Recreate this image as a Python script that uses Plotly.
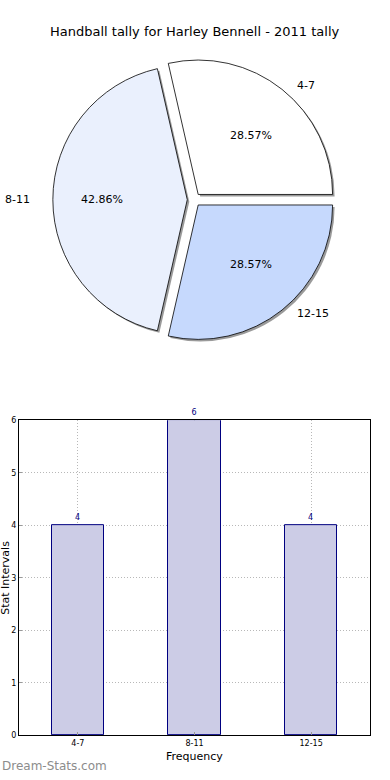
import math
import plotly.graph_objects as go

# ---- data ----
categories = ["4-7", "8-11", "12-15"]
counts = [4, 6, 4]
pie_colors = ["#ffffff", "#eaf0fd", "#c6d9fd"]
title_text = "Handball tally for Harley Bennell - 2011 tally"
x_title = "Frequency"
y_title = "Stat Intervals"
watermark = "Dream-Stats.com"

W, H = 390, 780
FONT = "DejaVu Sans"

# pie layout (pixels)
CX, CY = 194, 198
R = 136
PULL = 0.05
RX, RY = 141, 128   # for text placement (reference pie is slightly elliptical)

total = sum(counts)
# first slice starts at 3 o'clock and runs counterclockwise
pie_rotation = 90 - 360 * counts[0] / total


def px_x(x):
    return x / W


def px_y(y):
    return 1 - y / H


box = R * (2 + 2 * PULL)
pie_dom_x = [px_x(CX - box / 2), px_x(CX + box / 2)]
pie_dom_y = [px_y(CY + box / 2), px_y(CY - box / 2)]

fig = go.Figure()

# shadow
fig.add_trace(go.Pie(
    labels=categories, values=counts, sort=False, direction="counterclockwise",
    rotation=pie_rotation, pull=[PULL] * len(counts), textinfo="none", hoverinfo="skip",
    marker=dict(colors=["#9a9a9a"] * len(counts), line=dict(width=0)),
    domain=dict(x=[pie_dom_x[0] + 2 / W, pie_dom_x[1] + 2 / W],
                y=[pie_dom_y[0] - 2 / H, pie_dom_y[1] - 2 / H]),
    showlegend=False,
))
# main pie
fig.add_trace(go.Pie(
    labels=categories, values=counts, sort=False, direction="counterclockwise",
    rotation=pie_rotation, pull=[PULL] * len(counts), textinfo="none",
    marker=dict(colors=pie_colors, line=dict(color="#000000", width=0.8)),
    domain=dict(x=pie_dom_x, y=pie_dom_y),
    showlegend=False,
))

annotations = []
cum = 0
for cat, v in zip(categories, counts):
    frac = v / total
    mid = math.radians(360 * (cum + frac / 2))
    cum += frac
    c, s = math.cos(mid), math.sin(mid)
    lx = CX + (PULL + 1.1) * RX * c
    ly = CY - (PULL + 1.1) * RY * s
    annotations.append(dict(x=px_x(lx), y=px_y(ly), xref="paper", yref="paper",
                            text=cat, showarrow=False,
                            xanchor="left" if c > 0 else "right", yanchor="middle",
                            font=dict(family=FONT, size=11, color="#000")))
    tx = CX + (PULL + 0.6) * RX * c
    ty = CY - (PULL + 0.6) * RY * s
    annotations.append(dict(x=px_x(tx), y=px_y(ty), xref="paper", yref="paper",
                            text=f"{100 * frac:.2f}%", showarrow=False,
                            xanchor="center", yanchor="middle",
                            font=dict(family=FONT, size=11, color="#000")))

# bar chart
fig.add_trace(go.Bar(
    x=categories, y=counts, width=0.45,
    marker=dict(color="#ccccE6", line=dict(color="#000080", width=1)),
    text=[str(v) for v in counts], textposition="outside",
    textfont=dict(family=FONT, size=8, color="#000080"),
    cliponaxis=False, showlegend=False, hoverinfo="skip",
    xaxis="x", yaxis="y",
))

bar_left, bar_right, bar_top, bar_bottom = 19, 370, 421, 740

annotations += [
    dict(x=0.5, y=px_y(28), xref="paper", yref="paper", text=title_text,
         showarrow=False, xanchor="center", yanchor="middle",
         font=dict(family=FONT, size=13, color="#000")),
    dict(x=px_x((bar_left + bar_right) / 2), y=px_y(761), xref="paper", yref="paper",
         text=x_title, showarrow=False, xanchor="center", yanchor="middle",
         font=dict(family=FONT, size=11, color="#000")),
    dict(x=px_x(6), y=px_y((bar_top + bar_bottom) / 2), xref="paper", yref="paper",
         text=y_title, showarrow=False, textangle=-90, xanchor="center", yanchor="middle",
         font=dict(family=FONT, size=11, color="#000")),
    dict(x=0, y=px_y(771), xref="paper", yref="paper", text=watermark,
         showarrow=False, xanchor="left", yanchor="middle",
         font=dict(family=FONT, size=12, color="#8c8c8c")),
]

grid_style = dict(showgrid=True, gridcolor="#b8b8b8", griddash="1px,2px", gridwidth=1)

fig.update_layout(
    width=W, height=H, margin=dict(l=0, r=0, t=0, b=0),
    paper_bgcolor="white", plot_bgcolor="white",
    font=dict(family=FONT, size=8, color="#000"),
    annotations=annotations,
    bargap=0,
    xaxis=dict(domain=[px_x(bar_left), px_x(bar_right)], anchor="y",
               range=[-0.505, 2.505], type="category",
               showline=True, mirror=True, linecolor="#000", linewidth=1,
               ticks="inside", ticklen=3, tickcolor="#999",
               tickfont=dict(family=FONT, size=8, color="#000"), zeroline=False,
               **grid_style),
    yaxis=dict(domain=[px_y(bar_bottom), px_y(bar_top)], anchor="x",
               range=[0, 6], dtick=1,
               showline=True, mirror=True, linecolor="#000", linewidth=1,
               ticks="inside", ticklen=3, tickcolor="#999",
               tickfont=dict(family=FONT, size=8, color="#000"), zeroline=False,
               **grid_style),
)

fig.write_html(
    "out.html",
    config={"displayModeBar": False},
    post_script=(
        "document.body.style.margin='0';"
        "document.body.style.overflow='hidden';"
        "document.documentElement.style.overflow='hidden';"
    ),
)
